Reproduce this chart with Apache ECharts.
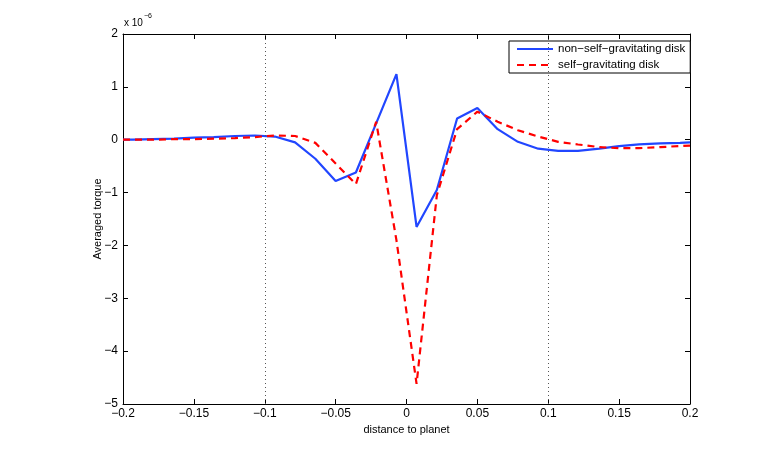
<!DOCTYPE html>
<html>
<head>
<meta charset="utf-8">
<script src="https://cdn.jsdelivr.net/npm/echarts@6/dist/echarts.min.js"></script>
<style>
  html, body { margin: 0; padding: 0; background: #fff; }
  #chart { width: 763px; height: 455px; }
</style>
</head>
<body>
<div id="chart"></div>
<script>
// distance to planet (sample grid)
const distance = [-0.2, -0.193, -0.179, -0.164, -0.15, -0.136, -0.121, -0.107, -0.0929, -0.0786,
  -0.0643, -0.05, -0.0357, -0.0214, -0.0071, 0.0071, 0.0214, 0.0357, 0.05, 0.0643,
  0.0786, 0.0929, 0.107, 0.121, 0.136, 0.15, 0.164, 0.179, 0.193, 0.2]
// averaged torque, units of 1e-6
const nonSelfGrav = [0.0, 0.0, 0.01, 0.02, 0.04, 0.05, 0.07, 0.08, 0.06, -0.05,
  -0.36, -0.78, -0.62, 0.31, 1.24, -1.65, -0.95, 0.40, 0.60, 0.20,
  -0.04, -0.17, -0.21, -0.21, -0.17, -0.12, -0.09, -0.07, -0.06, -0.05]
const selfGrav = [0.0, 0.0, 0.0, 0.01, 0.01, 0.02, 0.03, 0.05, 0.08, 0.07,
  -0.06, -0.45, -0.84, 0.34, -1.9, -4.62, -1.05, 0.2, 0.53, 0.34,
  0.18, 0.06, -0.04, -0.09, -0.14, -0.16, -0.16, -0.14, -0.12, -0.11]
const xTicks = [-0.2, -0.15, -0.1, -0.05, 0, 0.05, 0.1, 0.15, 0.2]
const yTicks = [-5, -4, -3, -2, -1, 0, 1, 2]
const hillLines = [-0.102, 0.102]

const font = 'Liberation Sans, Arial, Helvetica, sans-serif'
const minus = v => String(v).replace('-', '\u2212')
const pairs = ys => distance.map((x, i) => [x, ys[i]])

const chart = echarts.init(document.getElementById('chart'))

const baseX = {
  type: 'value', min: xTicks[0], max: xTicks[xTicks.length - 1], interval: 0.05,
  axisLine: { onZero: false, lineStyle: { color: '#000', width: 1 } },
  axisTick: { inside: true, length: 5, lineStyle: { color: '#000' } },
  splitLine: { show: false }
}
const baseY = {
  type: 'value', min: yTicks[0], max: yTicks[yTicks.length - 1], interval: 1,
  axisLine: { show: true, onZero: false, lineStyle: { color: '#000', width: 1 } },
  axisTick: { show: true, inside: true, length: 5, lineStyle: { color: '#000' } },
  splitLine: { show: false }
}

chart.setOption({
  animation: false,
  textStyle: { fontFamily: font },
  grid: { left: 123, right: 73, top: 34, bottom: 51 },
  xAxis: [
    Object.assign({}, baseX, {
      position: 'bottom',
      name: 'distance to planet', nameLocation: 'middle', nameGap: 18,
      nameTextStyle: { color: '#000', fontSize: 11, fontFamily: font },
      axisLabel: { color: '#000', fontSize: 12, margin: 4, formatter: minus }
    }),
    Object.assign({}, baseX, { position: 'top', axisLabel: { show: false } })
  ],
  yAxis: [
    Object.assign({}, baseY, {
      position: 'left',
      name: 'Averaged torque', nameLocation: 'middle', nameGap: 20,
      nameMoveOverlap: false,
      nameTextStyle: { color: '#000', fontSize: 11, fontFamily: font },
      axisLabel: { color: '#000', fontSize: 12, margin: 5, formatter: minus }
    }),
    Object.assign({}, baseY, { position: 'right', axisLabel: { show: false } })
  ],
  graphic: [{
    type: 'text', left: 124, top: 13,
    style: {
      text: '{a|x 10}{b|\u22126}',
      rich: {
        a: { fontSize: 10, fontFamily: font, fill: '#000', verticalAlign: 'bottom' },
        b: { fontSize: 7, fontFamily: font, fill: '#000', verticalAlign: 'top', padding: [0, 0, 8, 1] }
      }
    }
  }],
  legend: {
    left: 509, top: 41,
    orient: 'vertical', itemGap: 4, itemWidth: 36, itemHeight: 12,
    padding: [2, 5, 2, 7],
    borderColor: '#000', borderWidth: 1, backgroundColor: '#fff',
    itemStyle: { opacity: 0 },
    textStyle: { fontSize: 11.5, color: '#000', fontFamily: font },
    data: ['non\u2212self\u2212gravitating disk', 'self\u2212gravitating disk']
  },
  series: [
    {
      name: 'non\u2212self\u2212gravitating disk', type: 'line', data: pairs(nonSelfGrav),
      symbol: 'none', z: 3,
      lineStyle: { color: '#2146ff', width: 2.2 },
      itemStyle: { color: '#2146ff' },
      markLine: {
        silent: true, symbol: 'none', label: { show: false },
        lineStyle: { color: '#555', type: [1, 3], width: 1 },
        data: hillLines.map(x => ({ xAxis: x }))
      }
    },
    {
      name: 'self\u2212gravitating disk', type: 'line', data: pairs(selfGrav),
      symbol: 'none', z: 4,
      lineStyle: { color: '#ff0000', width: 2.2, type: [7, 5] },
      itemStyle: { color: '#ff0000' }
    }
  ]
})
</script>
</body>
</html>
